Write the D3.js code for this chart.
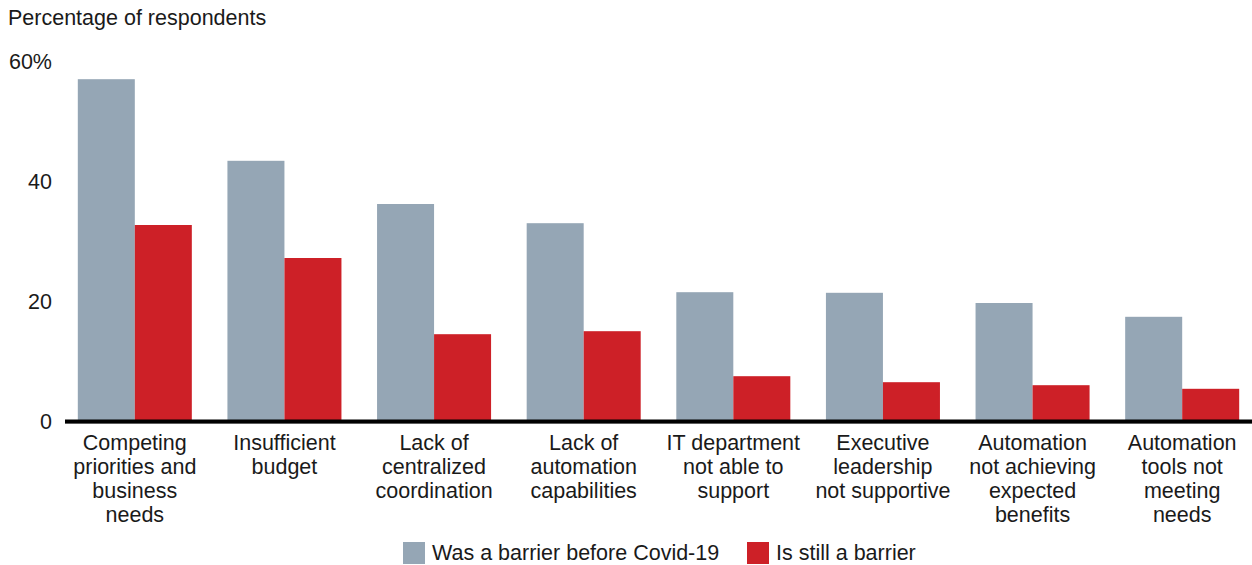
<!DOCTYPE html>
<html>
<head>
<meta charset="utf-8">
<script src="https://cdnjs.cloudflare.com/ajax/libs/d3/7.8.5/d3.min.js"></script>
<style>
  body { margin: 0; background: #fff; }
  svg text { font-family: "Liberation Sans", Arial, sans-serif; fill: #1a1a1a; }
</style>
</head>
<body>
<script>
var categories = [
  ['Competing', 'priorities and', 'business', 'needs'],
  ['Insufficient', 'budget'],
  ['Lack of', 'centralized', 'coordination'],
  ['Lack of', 'automation', 'capabilities'],
  ['IT department', 'not able to', 'support'],
  ['Executive', 'leadership', 'not supportive'],
  ['Automation', 'not achieving', 'expected', 'benefits'],
  ['Automation', 'tools not', 'meeting', 'needs']
];
var beforeCovid = [56.8, 43.2, 36.0, 32.8, 21.3, 21.2, 19.5, 17.2];
var stillBarrier = [32.5, 27.0, 14.3, 14.8, 7.3, 6.3, 5.8, 5.2];
var seriesNames = ['Was a barrier before Covid-19', 'Is still a barrier'];
var seriesColors = ['#95a6b5', '#cd2027'];
var yTicks = [0, 20, 40, 60];

var width = 1252, height = 565;
var fontSize = '21.5px';

var svg = d3.select('body').append('svg')
  .attr('width', width)
  .attr('height', height);

var x = d3.scaleBand()
  .domain(d3.range(categories.length))
  .range([60, 1257])
  .paddingInner(0.238)
  .paddingOuter(0.119);

var x1 = d3.scaleBand()
  .domain([0, 1])
  .range([0, x.bandwidth()]);

var y = d3.scaleLinear()
  .domain([0, 60])
  .range([420, 60]);

svg.append('text')
  .attr('x', 8)
  .attr('y', 25)
  .style('font-size', fontSize)
  .text('Percentage of respondents');

svg.selectAll('text.ytick')
  .data(yTicks)
  .enter()
  .append('text')
  .classed('ytick', true)
  .attr('x', 52)
  .attr('y', function(d) { return y(d) + 1; })
  .attr('dy', '0.35em')
  .style('text-anchor', 'end')
  .style('font-size', fontSize)
  .text(function(d) { return d === 60 ? d + '%' : d; });

var groups = svg.selectAll('g.group')
  .data(categories)
  .enter()
  .append('g')
  .classed('group', true)
  .attr('transform', function(d, i) { return 'translate(' + x(i) + ',0)'; });

groups.selectAll('rect')
  .data(function(d, i) { return [beforeCovid[i], stillBarrier[i]]; })
  .enter()
  .append('rect')
  .attr('x', function(d, j) { return x1(j); })
  .attr('y', function(d) { return y(d); })
  .attr('width', x1.bandwidth())
  .attr('height', function(d) { return y(0) - y(d); })
  .attr('fill', function(d, j) { return seriesColors[j]; });

// baseline
svg.append('line')
  .attr('x1', 65).attr('x2', width)
  .attr('y1', y(0) + 3).attr('y2', y(0) + 3)
  .style('stroke', '#777').style('stroke-width', 1);
svg.append('line')
  .attr('x1', 65).attr('x2', width)
  .attr('y1', y(0) + 1.5).attr('y2', y(0) + 1.5)
  .style('stroke', '#000').style('stroke-width', 4);

groups.append('text')
  .attr('x', x.bandwidth() / 2)
  .attr('y', 450)
  .style('text-anchor', 'middle')
  .style('font-size', fontSize)
  .selectAll('tspan')
  .data(function(d) { return d; })
  .enter()
  .append('tspan')
  .attr('x', x.bandwidth() / 2)
  .attr('dy', function(d, i) { return i === 0 ? 0 : 24; })
  .text(function(d) { return d; });

// legend
var legendX = [403, 747];
var legend = svg.selectAll('g.legend')
  .data(seriesNames)
  .enter()
  .append('g')
  .classed('legend', true)
  .attr('transform', function(d, i) { return 'translate(' + legendX[i] + ',542)'; });

legend.append('rect')
  .attr('width', 22)
  .attr('height', 22)
  .attr('fill', function(d, i) { return seriesColors[i]; });

legend.append('text')
  .attr('x', 29)
  .attr('y', 10)
  .attr('dy', '0.35em')
  .style('font-size', fontSize)
  .text(function(d) { return d; });
</script>
</body>
</html>
